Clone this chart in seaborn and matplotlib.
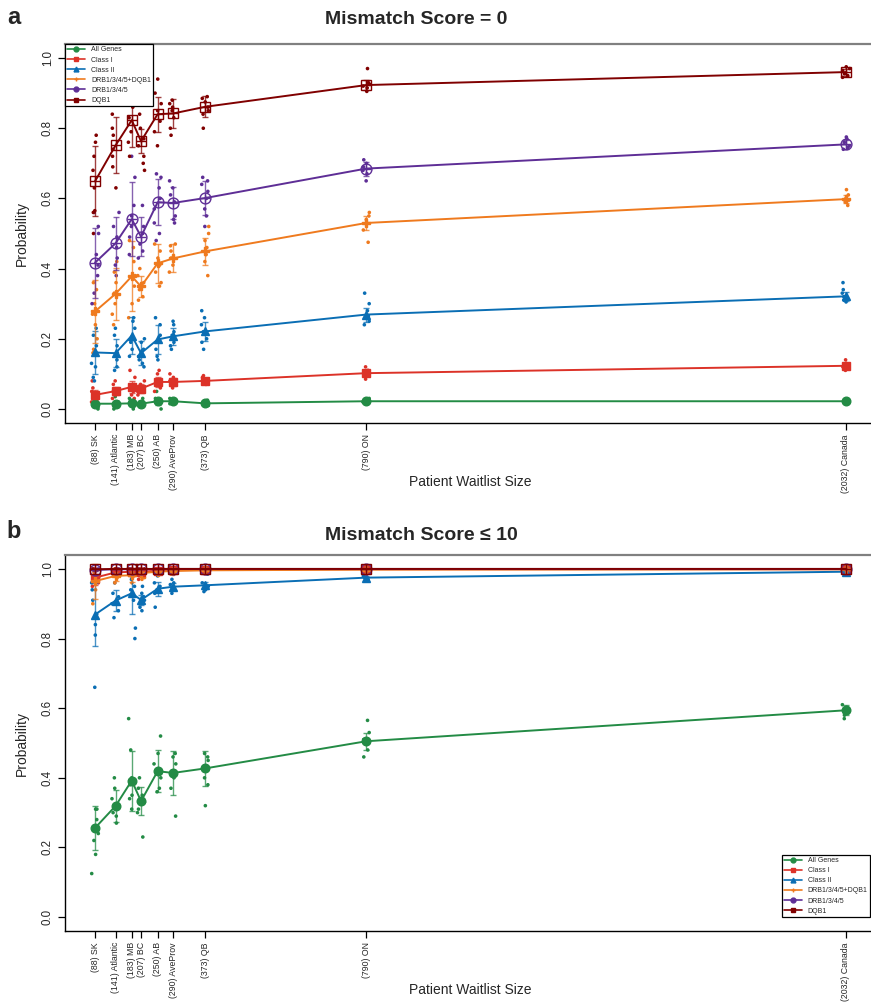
import numpy as np
import pandas as pd
import matplotlib
matplotlib.use("Agg")
import matplotlib.pyplot as plt
import seaborn as sns
from matplotlib.lines import Line2D

# ------------------------------------------------------------------
# data
# ------------------------------------------------------------------
sites = ["SK", "Atlantic", "MB", "BC", "AB", "AveProv", "QB", "ON", "Canada"]
sizes = [88, 141, 183, 207, 250, 290, 373, 790, 2032]
genes = ["All Genes", "Class I", "Class II", "DRB1/3/4/5+DQB1", "DRB1/3/4/5", "DQB1"]
colors = ["#238b45", "#dc3228", "#0a6eb4", "#ef7a1e", "#5e2e96", "#800000"]

# panel a: mismatch score = 0  (rows follow `genes`, columns follow `sites`)
a_mean = [
    [0.015, 0.015, 0.016, 0.015, 0.022, 0.022, 0.016, 0.022, 0.022],
    [0.040, 0.051, 0.063, 0.058, 0.077, 0.077, 0.080, 0.102, 0.123],
    [0.161, 0.159, 0.209, 0.159, 0.198, 0.207, 0.221, 0.269, 0.321],
    [0.278, 0.328, 0.378, 0.349, 0.415, 0.429, 0.449, 0.530, 0.598],
    [0.417, 0.472, 0.541, 0.491, 0.589, 0.587, 0.601, 0.685, 0.754],
    [0.649, 0.751, 0.823, 0.763, 0.840, 0.842, 0.861, 0.923, 0.960],
]
a_err = [
    [0.008, 0.008, 0.008, 0.008, 0.010, 0.006, 0.005, 0.004, 0.003],
    [0.015, 0.012, 0.018, 0.012, 0.015, 0.012, 0.008, 0.008, 0.006],
    [0.060, 0.040, 0.052, 0.035, 0.040, 0.025, 0.026, 0.020, 0.012],
    [0.090, 0.075, 0.100, 0.030, 0.055, 0.040, 0.038, 0.020, 0.012],
    [0.100, 0.075, 0.105, 0.055, 0.065, 0.045, 0.048, 0.020, 0.012],
    [0.100, 0.080, 0.077, 0.035, 0.050, 0.040, 0.030, 0.015, 0.010],
]
a_pts = [
    [[0.035, 0.02, 0.015, 0.01, 0.005, 0.0], [0.035, 0.02, 0.015, 0.01, 0.0], [0.03, 0.02, 0.015, 0.01, 0.0],
     [0.03, 0.02, 0.015, 0.01, 0.005], [0.05, 0.03, 0.02, 0.015, 0.0], [0.03, 0.025, 0.02, 0.015],
     [0.025, 0.02, 0.015, 0.01], [0.03, 0.025, 0.02, 0.015], [0.025, 0.022, 0.02, 0.018]],
    [[0.08, 0.06, 0.05, 0.03, 0.02, 0.01], [0.08, 0.07, 0.05, 0.04, 0.03], [0.11, 0.09, 0.07, 0.05, 0.04, 0.03],
     [0.08, 0.07, 0.06, 0.05, 0.04], [0.11, 0.10, 0.08, 0.07, 0.06, 0.05], [0.10, 0.09, 0.08, 0.07, 0.06],
     [0.095, 0.09, 0.08, 0.075, 0.07], [0.12, 0.11, 0.10, 0.095, 0.085], [0.14, 0.13, 0.125, 0.12, 0.11]],
    [[0.23, 0.21, 0.18, 0.16, 0.13, 0.12, 0.09, 0.08], [0.23, 0.21, 0.18, 0.16, 0.14, 0.12, 0.11],
     [0.26, 0.25, 0.23, 0.20, 0.19, 0.17, 0.15], [0.20, 0.19, 0.17, 0.15, 0.14, 0.13, 0.12],
     [0.26, 0.24, 0.21, 0.19, 0.17, 0.15, 0.14], [0.25, 0.24, 0.22, 0.21, 0.19, 0.18, 0.17],
     [0.28, 0.26, 0.24, 0.22, 0.20, 0.19, 0.17], [0.33, 0.30, 0.28, 0.265, 0.25, 0.24],
     [0.36, 0.34, 0.33, 0.32, 0.31, 0.305]],
    [[0.36, 0.34, 0.30, 0.27, 0.24, 0.20, 0.17, 0.16], [0.42, 0.39, 0.36, 0.33, 0.30, 0.27, 0.24],
     [0.48, 0.46, 0.42, 0.38, 0.35, 0.30, 0.26], [0.40, 0.38, 0.36, 0.34, 0.32, 0.31],
     [0.47, 0.45, 0.43, 0.41, 0.39, 0.36, 0.35], [0.47, 0.465, 0.45, 0.43, 0.41, 0.39],
     [0.52, 0.50, 0.48, 0.46, 0.44, 0.42, 0.38], [0.56, 0.55, 0.54, 0.53, 0.51, 0.475],
     [0.625, 0.61, 0.60, 0.595, 0.59, 0.58]],
    [[0.56, 0.52, 0.50, 0.44, 0.41, 0.38, 0.33, 0.30], [0.56, 0.52, 0.49, 0.46, 0.43, 0.41, 0.38],
     [0.72, 0.66, 0.58, 0.55, 0.52, 0.49, 0.44], [0.58, 0.52, 0.50, 0.47, 0.45, 0.43],
     [0.67, 0.66, 0.63, 0.60, 0.57, 0.53, 0.50, 0.48], [0.65, 0.63, 0.61, 0.59, 0.55, 0.54, 0.53],
     [0.66, 0.65, 0.64, 0.62, 0.60, 0.57, 0.55, 0.52], [0.71, 0.70, 0.69, 0.68, 0.67, 0.65],
     [0.775, 0.77, 0.76, 0.75, 0.745, 0.74]],
    [[0.78, 0.76, 0.72, 0.68, 0.63, 0.565, 0.56, 0.50], [0.84, 0.80, 0.78, 0.74, 0.72, 0.69, 0.63],
     [0.97, 0.90, 0.86, 0.83, 0.79, 0.76, 0.72], [0.84, 0.80, 0.77, 0.75, 0.72, 0.70, 0.68],
     [0.94, 0.90, 0.87, 0.85, 0.82, 0.79, 0.75], [0.88, 0.87, 0.86, 0.85, 0.83, 0.80, 0.78],
     [0.89, 0.885, 0.875, 0.86, 0.85, 0.84, 0.80], [0.97, 0.93, 0.925, 0.92, 0.915, 0.905],
     [0.975, 0.97, 0.965, 0.955, 0.95, 0.945]],
]

# panel b: mismatch score <= 10
b_mean = [
    [0.256, 0.319, 0.392, 0.333, 0.419, 0.414, 0.427, 0.505, 0.594],
    [0.975, 0.990, 0.992, 0.992, 0.995, 0.997, 0.998, 0.999, 0.999],
    [0.869, 0.909, 0.930, 0.911, 0.943, 0.949, 0.953, 0.975, 0.992],
    [0.965, 0.980, 0.982, 0.988, 0.992, 0.994, 0.996, 0.998, 0.999],
    [0.997, 0.999, 0.999, 0.999, 1.000, 1.000, 1.000, 1.000, 1.000],
    [0.999, 1.000, 1.000, 1.000, 1.000, 1.000, 1.000, 1.000, 1.000],
]
b_err = [
    [0.063, 0.045, 0.086, 0.040, 0.060, 0.064, 0.050, 0.025, 0.015],
    [0.020, 0.008, 0.008, 0.010, 0.004, 0.003, 0.002, 0.001, 0.001],
    [0.090, 0.030, 0.060, 0.015, 0.020, 0.010, 0.010, 0.006, 0.003],
    [0.050, 0.015, 0.020, 0.010, 0.006, 0.004, 0.003, 0.002, 0.001],
    [0.004, 0.002, 0.002, 0.002, 0.001, 0.001, 0.001, 0.001, 0.001],
    [0.002, 0.001, 0.001, 0.001, 0.001, 0.001, 0.001, 0.001, 0.001],
]
b_pts = [
    [[0.31, 0.31, 0.28, 0.26, 0.24, 0.22, 0.18, 0.125], [0.40, 0.37, 0.34, 0.32, 0.30, 0.29, 0.27],
     [0.57, 0.48, 0.40, 0.38, 0.35, 0.34, 0.31], [0.40, 0.37, 0.35, 0.33, 0.31, 0.30, 0.23],
     [0.52, 0.47, 0.44, 0.42, 0.40, 0.37, 0.36], [0.47, 0.46, 0.44, 0.42, 0.40, 0.37, 0.29],
     [0.47, 0.46, 0.45, 0.43, 0.40, 0.38, 0.32], [0.565, 0.53, 0.51, 0.50, 0.48, 0.46],
     [0.61, 0.60, 0.595, 0.59, 0.58, 0.57]],
    [[1.0, 0.99, 0.975, 0.96, 0.95], [1.0, 0.995, 0.99, 0.98], [1.0, 0.995, 0.99, 0.98],
     [1.0, 0.99, 0.985, 0.97], [1.0, 0.998, 0.995, 0.99], [1.0, 0.998, 0.996], [1.0, 0.999, 0.997],
     [1.0, 0.999], [1.0, 0.999]],
    [[0.96, 0.94, 0.91, 0.87, 0.84, 0.81, 0.66], [0.96, 0.93, 0.92, 0.90, 0.88, 0.86],
     [0.98, 0.97, 0.95, 0.94, 0.91, 0.83, 0.80], [0.95, 0.93, 0.92, 0.91, 0.89, 0.88],
     [0.98, 0.96, 0.95, 0.94, 0.93, 0.89], [0.97, 0.96, 0.955, 0.95, 0.94, 0.93],
     [0.985, 0.96, 0.955, 0.95, 0.94, 0.935], [0.985, 0.98, 0.975, 0.97, 0.965],
     [0.998, 0.995, 0.99, 0.988]],
    [[1.0, 0.99, 0.98, 0.97, 0.94, 0.90], [1.0, 0.995, 0.985, 0.975, 0.96], [1.0, 0.995, 0.985, 0.98, 0.96],
     [1.0, 0.995, 0.985, 0.975, 0.97], [1.0, 0.995, 0.99, 0.985], [1.0, 0.995, 0.99, 0.985],
     [1.0, 0.998, 0.995, 0.99], [1.0, 0.998, 0.996], [1.0, 0.999, 0.998]],
    [[1.0, 0.998, 0.995], [1.0, 0.999], [1.0, 0.999], [1.0, 0.999], [1.0], [1.0], [1.0], [1.0], [1.0]],
    [[1.0, 0.999], [1.0], [1.0], [1.0], [1.0], [1.0], [1.0], [1.0], [1.0]],
]

tick_labels = ["(%d) %s" % (n, s) for n, s in zip(sizes, sites)]

# ------------------------------------------------------------------
# style
# ------------------------------------------------------------------
sns.set_style("white")
plt.rcParams["font.family"] = ["Liberation Sans", "DejaVu Sans"]
np.random.seed(3)

# marker per gene: (marker, filled, size, overlay plus)
mk = [("o", True, 6.2, False), ("s", True, 5.6, False), ("^", True, 6.2, False),
      ("P", True, 6.2, False), ("o", False, 7.8, True), ("s", False, 7.8, True)]
leg_mk = ["o", "s", "^", "+", "o", "s"]

fig = plt.figure(figsize=(8.71, 10.02), dpi=100)
ax_a = fig.add_axes([65 / 871, 1 - 423 / 1002, 811 / 871, 379 / 1002])
ax_b = fig.add_axes([65 / 871, 1 - 931 / 1002, 811 / 871, 376 / 1002])


def draw_panel(ax, means, errs, pts):
    rows = []
    for g, gene in enumerate(genes):
        for s, n in enumerate(sizes):
            for v in pts[g][s]:
                rows.append({"size": n, "prob": v, "gene": gene})
    df_pts = pd.DataFrame(rows)
    sns.stripplot(data=df_pts, x="size", y="prob", hue="gene", hue_order=genes,
                  palette=colors, native_scale=True, orient="x", jitter=0.4,
                  size=2.6, linewidth=0, legend=False, ax=ax, zorder=2)
    for g, gene in enumerate(genes):
        c = colors[g]
        m, filled, ms, plus = mk[g]
        ax.errorbar(sizes, means[g], yerr=errs[g], fmt="none", ecolor=c,
                    elinewidth=1, capsize=2, alpha=0.75, zorder=3)
        sns.lineplot(x=sizes, y=means[g], color=c, lw=1.4, marker=m, markersize=ms,
                     markerfacecolor=c if filled else "none", markeredgecolor=c,
                     markeredgewidth=1.0, errorbar=None, sort=False, ax=ax, zorder=4)
        if plus:
            ax.plot(sizes, means[g], ls="none", marker="+", ms=ms, mew=1.0, color=c, zorder=4)

    ax.set_xlim(10.2, 2109.8)
    ax.set_ylim(-0.04, 1.04)
    ax.set_xticks(sizes)
    ax.set_xticklabels(tick_labels, rotation=90, fontsize=6.3, va="top")
    ax.set_yticks([0, 0.2, 0.4, 0.6, 0.8, 1.0])
    ax.set_yticklabels(["0.0", "0.2", "0.4", "0.6", "0.8", "1.0"], rotation=90,
                       va="center", fontsize=8.3)
    ax.tick_params(axis="both", direction="out", length=5, width=0.9, color="black", pad=3,
                   bottom=True, left=True)
    ax.set_xlabel("")
    ax.set_ylabel("")
    for side in ["left", "bottom"]:
        ax.spines[side].set_color("black")
        ax.spines[side].set_linewidth(1.0)
    ax.spines["top"].set_color("#808080")
    ax.spines["top"].set_linewidth(1.6)
    ax.spines["right"].set_color("#808080")


draw_panel(ax_a, a_mean, a_err, a_pts)
draw_panel(ax_b, b_mean, b_err, b_pts)

handles = [Line2D([0], [0], color=colors[g], lw=1.2, marker=leg_mk[g], markersize=3.5,
                  markeredgewidth=1.0) for g in range(len(genes))]
leg_kw = dict(fontsize=5, frameon=True, fancybox=False, framealpha=1, edgecolor="black",
              handlelength=2.6, handletextpad=0.8, borderpad=0.35, labelspacing=0.45,
              borderaxespad=0)
la = ax_a.legend(handles, genes, loc="upper left", bbox_to_anchor=(0, 1), **leg_kw)
la.get_frame().set_linewidth(0.9)
lb = ax_b.legend(handles, genes, loc="lower right", bbox_to_anchor=((870 - 65) / 811, 0.037), **leg_kw)
lb.get_frame().set_linewidth(0.9)

# titles, panel letters and shared axis labels
fig.text(14 / 871, 1 - 18 / 1002, "a", fontsize=17, fontweight="bold", ha="center", va="center")
fig.text(14 / 871, 1 - 532 / 1002, "b", fontsize=17, fontweight="bold", ha="center", va="center")
fig.text(325 / 871, 1 - 19 / 1002, "Mismatch Score = 0", fontsize=14, fontweight="bold",
         ha="left", va="center")
fig.text(325 / 871, 1 - 535 / 1002, "Mismatch Score \u2264 10", fontsize=14, fontweight="bold",
         ha="left", va="center")
for yc in [482, 990]:
    fig.text(470 / 871, 1 - yc / 1002, "Patient Waitlist Size", fontsize=10, ha="center", va="center")
for yc in [233, 743]:
    fig.text(22 / 871, 1 - yc / 1002, "Probability", fontsize=10, rotation=90, ha="center", va="center")

fig.savefig("out.png", dpi=100)
